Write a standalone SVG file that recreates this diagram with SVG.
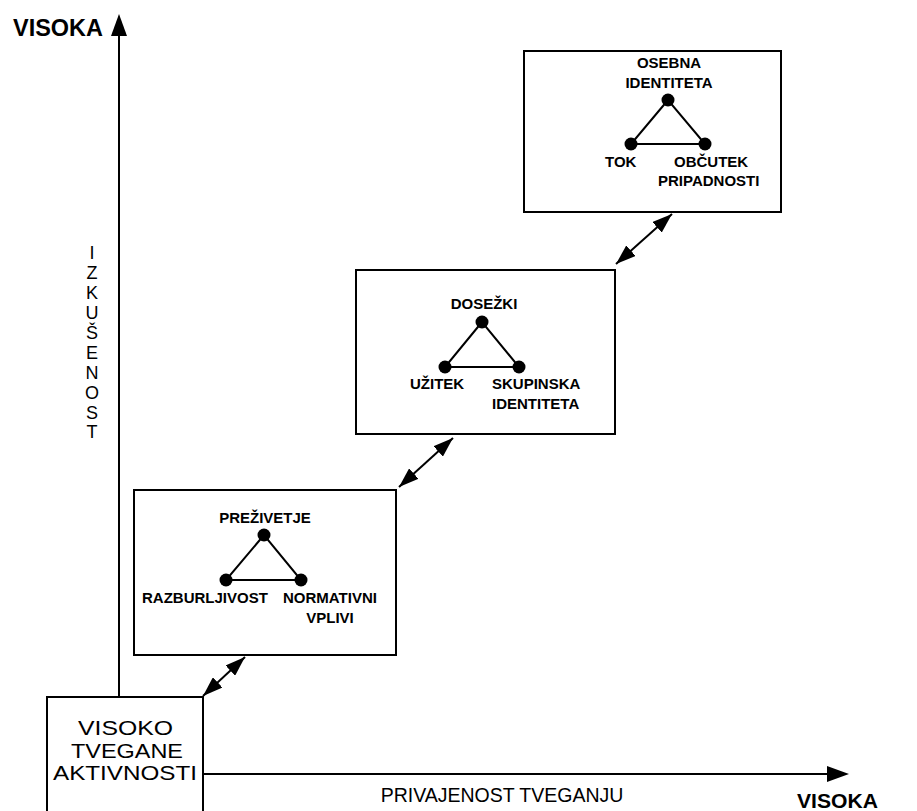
<svg xmlns="http://www.w3.org/2000/svg" width="917" height="811" viewBox="0 0 917 811">
<style>
.box{fill:#fff;stroke:#000;stroke-width:2}
.ln{stroke:#000;stroke-width:2;fill:none}
.dot{fill:#000}
.lb{font-family:"Liberation Sans",Arial,sans-serif;font-weight:bold;font-size:15px;fill:#000}
.ax{font-family:"Liberation Sans",Arial,sans-serif;fill:#000}
.mid{text-anchor:middle}
</style>
<defs>
<marker id="ah" viewBox="0 0 20 14" refX="20" refY="7" markerWidth="20" markerHeight="14" markerUnits="userSpaceOnUse" orient="auto-start-reverse">
<path d="M0,0 L20,7 L0,14 z" fill="#000"/>
</marker>
</defs>
<rect width="917" height="811" fill="#fff"/>
<g id="axes">
<line class="ln" x1="119" y1="30" x2="119" y2="697"/>
<polygon points="119,14 111,36 127,36" fill="#000"/>
<line class="ln" x1="203" y1="774" x2="835" y2="774"/>
<polygon points="849,774 827,766 827,782" fill="#000"/>
<text class="ax" x="13" y="36" font-size="23" font-weight="bold" textLength="90" lengthAdjust="spacingAndGlyphs">VISOKA</text>
<text class="ax" x="797" y="808" font-size="21" font-weight="bold" textLength="81" lengthAdjust="spacingAndGlyphs">VISOKA</text>
<text class="ax mid" x="502" y="802" font-size="19.5">PRIVAJENOST TVEGANJU</text>
<g class="ax mid" font-size="18">
<text x="92" y="259">I</text>
<text x="92" y="279">Z</text>
<text x="92" y="299">K</text>
<text x="92" y="319">U</text>
<text x="92" y="339">Š</text>
<text x="92" y="359">E</text>
<text x="92" y="379">N</text>
<text x="92" y="399">O</text>
<text x="92" y="419">S</text>
<text x="92" y="438">T</text>
</g>
</g>
<g id="start">
<rect class="box" x="47" y="697" width="156" height="120"/>
<g class="ax" font-size="21">
<text x="78" y="735" textLength="95" lengthAdjust="spacingAndGlyphs">VISOKO</text>
<text x="71" y="758" textLength="112" lengthAdjust="spacingAndGlyphs">TVEGANE</text>
<text x="53" y="780" textLength="144" lengthAdjust="spacingAndGlyphs">AKTIVNOSTI</text>
</g>
</g>
<g id="level1">
<rect class="box" x="134" y="490" width="262" height="165"/>
<polygon class="ln" points="264,535 226,580 301,580"/>
<circle class="dot" cx="264" cy="535" r="6.5"/>
<circle class="dot" cx="226" cy="580" r="6.5"/>
<circle class="dot" cx="301" cy="580" r="6.5"/>
<text class="lb mid" x="265" y="523">PREŽIVETJE</text>
<text class="lb" x="142" y="603">RAZBURLJIVOST</text>
<text class="lb" x="283" y="603">NORMATIVNI</text>
<text class="lb mid" x="330" y="623">VPLIVI</text>
</g>
<g id="level2">
<rect class="box" x="356" y="270" width="259" height="164"/>
<polygon class="ln" points="482,322 445,367 519,367"/>
<circle class="dot" cx="482" cy="322" r="6.5"/>
<circle class="dot" cx="445" cy="367" r="6.5"/>
<circle class="dot" cx="519" cy="367" r="6.5"/>
<text class="lb mid" x="484" y="309">DOSEŽKI</text>
<text class="lb" x="410" y="389">UŽITEK</text>
<text class="lb" x="492" y="389">SKUPINSKA</text>
<text class="lb" x="492" y="409">IDENTITETA</text>
</g>
<g id="level3">
<rect class="box" x="524" y="51" width="257" height="161"/>
<polygon class="ln" points="668,100 631,144 705,144"/>
<circle class="dot" cx="668" cy="100" r="6.5"/>
<circle class="dot" cx="631" cy="144" r="6.5"/>
<circle class="dot" cx="705" cy="144" r="6.5"/>
<text class="lb mid" x="669" y="68">OSEBNA</text>
<text class="lb mid" x="669" y="88">IDENTITETA</text>
<text class="lb" x="605" y="167">TOK</text>
<text class="lb" x="674" y="167">OBČUTEK</text>
<text class="lb" x="658" y="186">PRIPADNOSTI</text>
</g>
<g id="connectors">
<line class="ln" x1="203" y1="696" x2="245" y2="657" marker-start="url(#ah)" marker-end="url(#ah)"/>
<line class="ln" x1="399" y1="487" x2="453" y2="438" marker-start="url(#ah)" marker-end="url(#ah)"/>
<line class="ln" x1="616" y1="264" x2="672" y2="214" marker-start="url(#ah)" marker-end="url(#ah)"/>
</g>
</svg>
